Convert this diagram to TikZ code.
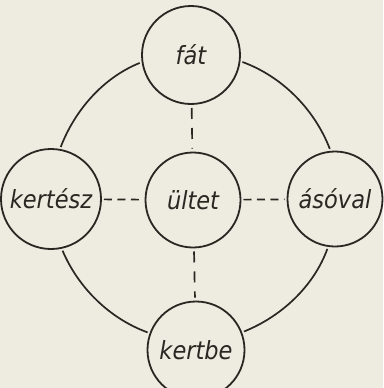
\documentclass[tikz,border=0pt]{standalone}
\usepackage{fontspec}
\newfontfamily\labfont{DejaVu Sans Condensed Oblique}
\definecolor{paper}{HTML}{EEEBE1}
\definecolor{ink}{HTML}{2A2621}
\begin{document}
\begin{tikzpicture}[x=1pt,y=-1pt,
  word/.style={circle,draw=ink,line width=1.8pt,inner sep=0pt,outer sep=0pt,
    font=\labfont\fontsize{25}{25}\selectfont,text=ink},
  ring/.style={draw=ink,line width=1.7pt,looseness=0.9,shorten <=3pt,shorten >=3pt},
  hdash/.style={draw=ink,line width=1.7pt,dash pattern=on 8pt off 5.5pt,shorten <=3pt,shorten >=3pt},
  vdash/.style={draw=ink,line width=1.7pt,dash pattern=on 11pt off 9pt,shorten <=4pt,shorten >=4pt}]
\fill[paper] (0,0) rectangle (383,388);
\useasboundingbox (0,0) rectangle (383,388);
\node[word,minimum size=98pt] (fat) at (191,55) {fát};
\node[word,minimum size=100pt] (kertesz) at (51,199) {kertész};
\node[word,minimum size=95pt] (ultet) at (193,200) {ültet};
\node[word,minimum size=95pt] (asoval) at (335,199) {ásóval};
\node[word,minimum size=97pt] (kertbe) at (196,350) {kertbe};
\draw[ring] (fat.188) to[out=202,in=69] (kertesz.80);
\draw[ring] (kertesz.282) to[out=293,in=160] (kertbe.160);
\draw[ring] (kertbe.21) to[out=22,in=250] (asoval.262);
\draw[ring] (asoval.95) to[out=111,in=340] (fat.353);
\draw[hdash] (kertesz) -- (ultet);
\draw[hdash] (ultet) -- (asoval);
\draw[vdash] (fat) -- (ultet);
\draw[vdash] (ultet) -- (kertbe);
\end{tikzpicture}
\end{document}
